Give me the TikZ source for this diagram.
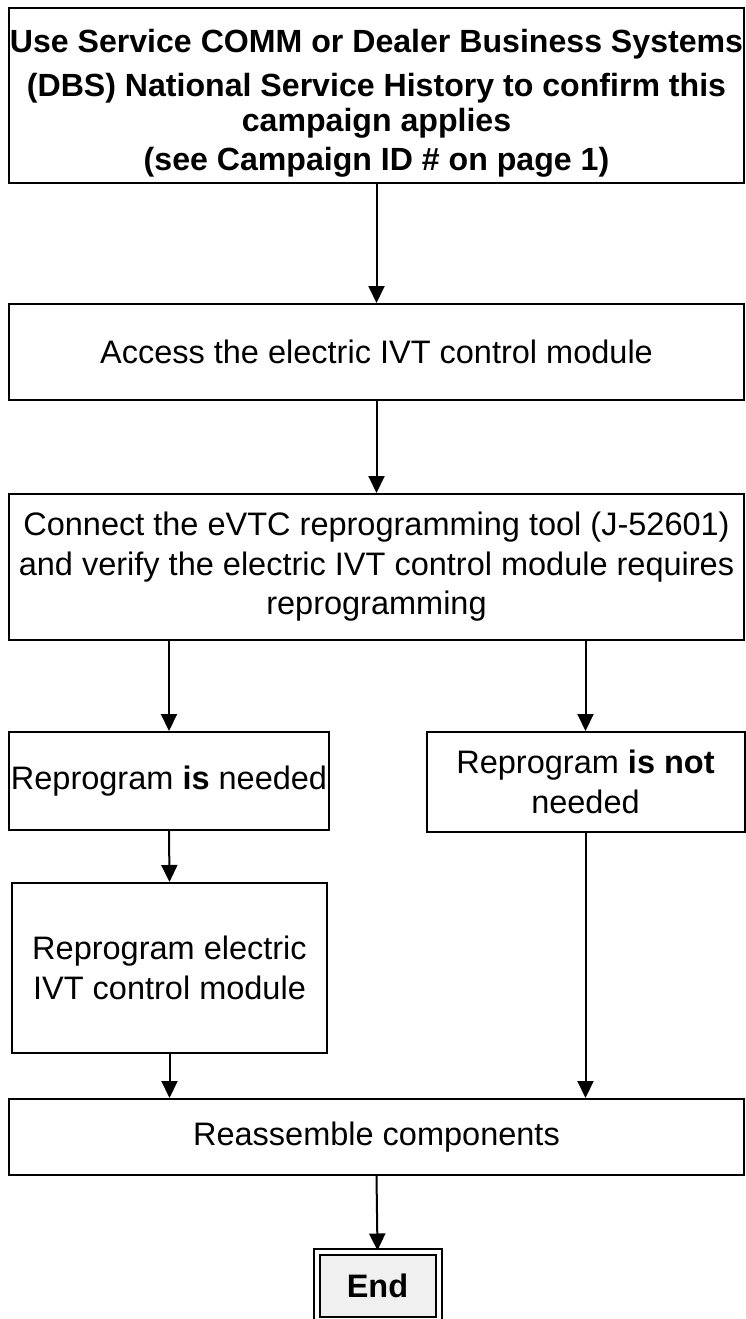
\documentclass[tikz,border=0pt]{standalone}
\usepackage{fontspec}
\setmainfont{Liberation Sans}
\usetikzlibrary{arrows.meta}
\begin{document}
\begin{tikzpicture}[x=1pt,y=-1pt,
  box/.style={draw=black, line width=2pt, rectangle, align=center, inner sep=0pt,
    font=\fontsize{32.5}{39.5}\selectfont},
  boxtext/.style={align=center, inner sep=0pt, font=\fontsize{32.1}{38}\selectfont\bfseries},
  conn/.style={line width=2pt, -{Triangle[length=17pt,width=16pt]}},
  endbox/.style={draw=black, double=white, double distance=4pt, line width=2pt, fill=black!6,
    inner sep=0pt, font=\fontsize{32.5}{39}\selectfont\bfseries}]
\useasboundingbox (0,0) rectangle (746,1319);
\node[box, minimum width=735pt, minimum height=175pt] (b1) at (376.5,95.5) {};
\node[boxtext] (b1t) at (376.5,103)
  {Use Service COMM or Dealer Business Systems\\[6pt]
   (DBS) National Service History to confirm this\\[-3pt]
   campaign applies\\[1pt]
   (see Campaign ID \# on page 1)};
\node[box, minimum width=735pt, minimum height=96pt] (b2) at (376.5,352)
  {Access the electric IVT control module};
\node[box, minimum width=735pt, minimum height=146pt] (b3) at (376.5,567)
  {Connect the eVTC reprogramming tool (J-52601)\\
   and verify the electric IVT control module requires\\
   reprogramming};
\node[box, minimum width=320pt, minimum height=98pt] (b4) at (169,781)
  {Reprogram \textbf{is} needed};
\node[box, minimum width=318pt, minimum height=100pt] (b5) at (585.5,782)
  {Reprogram \textbf{is not}\\ needed};
\node[box, minimum width=315pt, minimum height=170pt] (b6) at (169.5,968)
  {Reprogram electric\\ IVT control module};
\node[box, minimum width=735pt, minimum height=76pt] (b7) at (376.5,1137)
  {Reassemble components};
\node[endbox, minimum width=122pt, minimum height=68pt] (e) at (377.5,1285.5)
  {\raisebox{-4pt}{End}};
\draw[conn] (b1.south) -- (b2.north);
\draw[conn] (b2.south) -- (b3.north);
\draw[conn] (b4.north |- b3.south) -- (b4.north);
\draw[conn] (b5.north |- b3.south) -- (b5.north);
\draw[conn] (b4.south) -- (b6.north);
\draw[conn] (b6.south) -- (b6.south |- b7.north);
\draw[conn] (b5.south) -- (b5.south |- b7.north);
\draw[conn] (b7.south) -- (e.north);
\end{tikzpicture}
\end{document}
